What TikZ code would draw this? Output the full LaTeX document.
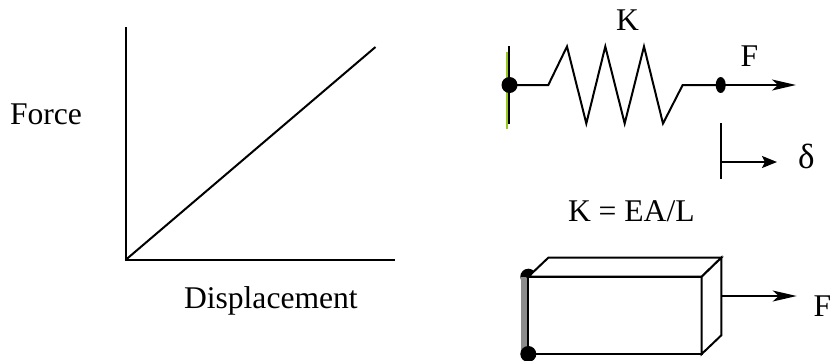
\documentclass[tikz,border=0pt]{standalone}
\usepackage{fontspec}
\setmainfont{Liberation Serif}
\usetikzlibrary{arrows.meta,shapes.geometric}
\definecolor{wallgreen}{RGB}{150,200,30}
\tikzset{
  lbl/.style={anchor=base west,inner sep=0pt,outer sep=0pt,font=\fontsize{31.6}{36}\selectfont},
  ink/.style={line width=2pt,black,line join=miter},
  bigtip/.style={-{Stealth[length=24pt,width=11pt,inset=6pt]}},
  smalltip/.style={-{Stealth[length=15pt,width=12pt,inset=3pt]}},
  dotmark/.style={fill=black,draw=none,ellipse,inner sep=0pt}
}
\begin{document}
\begin{tikzpicture}[x=1pt,y=-1pt]
\useasboundingbox (0,0) rectangle (831,360);
% graph
\coordinate (o) at (125.5,260);
\coordinate (ytop) at (125.5,27);
\coordinate (xend) at (395,260);
\coordinate (dend) at (375.5,47);
\draw[ink] (ytop) -- (o) -- (xend);
\draw[ink] (o) -- (dend);
\node[lbl] (force) at (10,124) {Force};
\node[lbl] (disp) at (184,308) {Displacement};
% spring
\draw[line width=2.3pt,wallgreen] (507,52) -- (507,129);
\coordinate (wt) at (509.3,46);
\coordinate (wb) at (509.3,124);
\draw[ink] (wt) -- (wb);
\node[dotmark,minimum width=16pt,minimum height=16pt] (fix) at (509.5,85) {};
\node[dotmark,minimum width=10pt,minimum height=16pt] (tip) at (720.7,85) {};
\coordinate (fend) at (796,85);
\draw[ink] (fix.center) -- (548.3,85) -- (567,46.5) -- (586.3,123.5) -- (605.3,46.5) -- (624.7,123.5) -- (644,46.5) -- (663,123.5) -- (682.7,85) -- (tip.center);
\draw[ink,bigtip] (tip.center) -- (fend);
\node[lbl] (k) at (616,30) {K};
\node[lbl] (f1) at (740.7,66.7) {F};
% displacement marker
\coordinate (mt) at (721,123);
\coordinate (mb) at (721,179);
\coordinate (mm) at (721,162);
\coordinate (mend) at (777,162);
\draw[ink] (mt) -- (mb);
\draw[ink,smalltip] (mm) -- (mend);
\node[lbl,font=\fontsize{35}{40}\selectfont] (delta) at (798,168) {δ};
\node[lbl] (eq) at (568,221) {K = EA/L};
% block
\node[dotmark,minimum width=16pt,minimum height=16pt] (d1) at (528.3,276.7) {};
\fill[black!45] (521,277) rectangle (528.3,354);
\coordinate (a) at (528.3,276.7);
\coordinate (b) at (701.7,276.7);
\coordinate (c) at (701.7,354);
\coordinate (e) at (528.3,354);
\coordinate (g) at (548.3,257.7);
\coordinate (h) at (721.3,257.7);
\coordinate (i) at (721.3,335.3);
\draw[ink,fill=white] (a) -- (b) -- (c) -- (e) -- cycle;
\draw[ink,fill=white] (a) -- (g) -- (h) -- (b) -- cycle;
\draw[ink,fill=white] (b) -- (h) -- (i) -- (c) -- cycle;
\node[dotmark,minimum width=16pt,minimum height=16pt] (d2) at (528.3,354) {};
\coordinate (as) at (721.3,296);
\coordinate (ae) at (796.7,296);
\draw[line width=1.5pt,black,bigtip] (as) -- (ae);
\node[lbl] (f2) at (813.5,316.5) {F};
\end{tikzpicture}
\end{document}
